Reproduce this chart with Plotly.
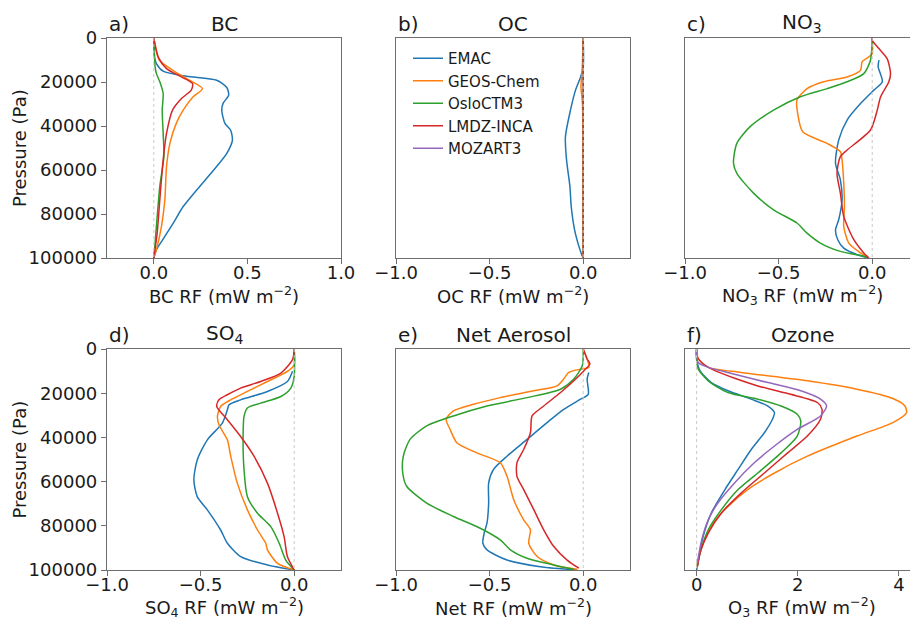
import plotly.graph_objects as go

# ---------------- data (pressure in Pa, RF in mW m-2) ----------------
models = ["EMAC", "GEOS-Chem", "OsloCTM3", "LMDZ-INCA", "MOZART3"]
colors = ["#1f77b4", "#ff7f0e", "#2ca02c", "#d62728", "#9467bd"]

# a) BC
bc_emac_p = [2000, 9400, 11600, 15100, 17400, 19200, 22500, 26000, 29700, 32800, 38800, 41800, 46400, 52400, 60000, 69000, 76600, 84100, 90200, 96200, 100000]
bc_emac_rf = [0.0, 0.005, 0.014, 0.05, 0.175, 0.336, 0.39, 0.40, 0.37, 0.363, 0.38, 0.41, 0.42, 0.39, 0.32, 0.23, 0.157, 0.104, 0.059, 0.014, 0.0]
bc_geos_p = [0, 5600, 10100, 14600, 19200, 23000, 26700, 32800, 38800, 47900, 58500, 73600, 85600, 96200, 100000]
bc_geos_rf = [0.0, 0.014, 0.03, 0.10, 0.19, 0.26, 0.21, 0.157, 0.12, 0.086, 0.068, 0.059, 0.041, 0.014, 0.0]
bc_oslo_p = [0, 13100, 16200, 19900, 25200, 32800, 43400, 53900, 67500, 85600, 100000]
bc_oslo_rf = [0.0, 0.007, 0.014, 0.032, 0.05, 0.045, 0.05, 0.054, 0.032, 0.014, 0.0]
bc_lmdz_p = [0, 8600, 13900, 17700, 20700, 23700, 27500, 32800, 43400, 55400, 73600, 88700, 100000]
bc_lmdz_rf = [0.0, 0.023, 0.068, 0.148, 0.207, 0.20, 0.148, 0.10, 0.068, 0.05, 0.032, 0.018, 0.0]

# b) OC
oc_emac_p = [0, 13100, 17700, 23700, 32800, 44900, 55400, 67500, 76600, 87200, 94700, 99200]
oc_emac_rf = [0.0, 0.0, -0.014, -0.041, -0.068, -0.095, -0.089, -0.071, -0.064, -0.046, -0.023, -0.005]
oc_geos_p = [0, 15000, 22000, 30000, 100000]
oc_geos_rf = [0.0, -0.006, -0.012, -0.004, 0.0]
oc_oslo_p = [0, 100000]
oc_oslo_rf = [0.0, 0.0]
oc_lmdz_p = [0, 100000]
oc_lmdz_rf = [0.0, 0.0]

# c) NO3
no3_emac_p = [10100, 13100, 19900, 23700, 29800, 37300, 46400, 56900, 64500, 73600, 82600, 87200, 91700, 95500, 98500, 100000]
no3_emac_rf = [0.036, 0.032, 0.054, 0.009, -0.0625, -0.134, -0.179, -0.196, -0.17, -0.161, -0.179, -0.196, -0.184, -0.152, -0.08, -0.018]
no3_geos_p = [0, 7100, 8600, 10900, 14700, 17700, 19900, 23000, 28200, 34300, 42600, 47900, 51700, 55400, 66000, 76600, 85600, 93200, 97700, 100000]
no3_geos_rf = [0.0, 0.0, -0.018, -0.054, -0.0625, -0.134, -0.259, -0.348, -0.402, -0.398, -0.371, -0.241, -0.17, -0.161, -0.152, -0.148, -0.152, -0.125, -0.0625, -0.018]
no3_oslo_p = [0, 1000, 10100, 16200, 19900, 23000, 26700, 32800, 40300, 47900, 56900, 61500, 70500, 78100, 84100, 88700, 93200, 97000, 99200, 100000]
no3_oslo_rf = [0.0, 0.0, -0.009, -0.045, -0.134, -0.241, -0.384, -0.527, -0.652, -0.723, -0.741, -0.723, -0.634, -0.527, -0.402, -0.348, -0.277, -0.17, -0.045, -0.018]
no3_lmdz_p = [0, 1000, 4800, 9400, 16200, 19900, 26700, 32800, 41800, 50900, 53900, 61500, 70500, 81100, 91700, 97700, 100000]
no3_lmdz_rf = [0.0, 0.0, 0.036, 0.08, 0.098, 0.089, 0.045, 0.027, -0.009, -0.134, -0.17, -0.188, -0.17, -0.152, -0.098, -0.045, -0.018]

# d) SO4
so4_emac_p = [10100, 14700, 19200, 23000, 25200, 27500, 33500, 41100, 50200, 59200, 66800, 72800, 81900, 87900, 93900, 97700, 100000]
so4_emac_rf = [-0.009, -0.036, -0.143, -0.286, -0.348, -0.357, -0.384, -0.464, -0.518, -0.536, -0.518, -0.464, -0.393, -0.357, -0.286, -0.143, 0.0]
so4_geos_p = [0, 7100, 10100, 14700, 19200, 23000, 26000, 30500, 34300, 41100, 48600, 60700, 72800, 81900, 87900, 90900, 97000, 100000]
so4_geos_rf = [0.0, 0.0, -0.036, -0.143, -0.25, -0.339, -0.393, -0.41, -0.402, -0.357, -0.339, -0.304, -0.25, -0.196, -0.152, -0.143, -0.089, 0.0]
so4_oslo_p = [0, 12400, 17700, 21500, 24500, 26700, 30500, 39600, 54700, 66800, 74300, 80400, 87900, 95500, 100000]
so4_oslo_rf = [0.0, 0.0, -0.018, -0.071, -0.179, -0.25, -0.268, -0.273, -0.268, -0.25, -0.196, -0.125, -0.08, -0.045, 0.0]
so4_lmdz_p = [0, 300, 4800, 10900, 14700, 17700, 20700, 23000, 26000, 32000, 39600, 48600, 60700, 74300, 84900, 94000, 100000]
so4_lmdz_rf = [0.0, 0.0, -0.009, -0.071, -0.179, -0.286, -0.357, -0.402, -0.414, -0.357, -0.286, -0.214, -0.143, -0.089, -0.054, -0.036, 0.0]

# e) Net aerosol
net_emac_p = [10600, 13600, 20500, 22700, 27300, 33300, 40900, 48500, 54500, 60600, 69700, 78800, 83300, 87900, 90900, 95500, 98500, 100000]
net_emac_rf = [0.030, 0.021, 0.027, -0.014, -0.104, -0.193, -0.30, -0.407, -0.479, -0.505, -0.505, -0.514, -0.529, -0.536, -0.514, -0.407, -0.229, -0.032]
net_geos_p = [0, 8300, 9100, 10600, 13600, 16700, 18900, 22000, 25000, 28000, 31800, 36400, 42400, 47000, 51500, 57600, 68200, 77300, 81800, 87900, 93900, 97700, 99700]
net_geos_rf = [0.0, 0.03, -0.014, -0.077, -0.104, -0.139, -0.264, -0.443, -0.586, -0.693, -0.732, -0.711, -0.675, -0.568, -0.443, -0.407, -0.371, -0.318, -0.282, -0.291, -0.246, -0.157, -0.032]
net_oslo_p = [0, 7600, 13600, 18200, 22000, 25800, 30300, 34800, 40900, 48500, 56100, 62100, 69700, 75800, 81100, 86400, 90900, 94700, 97700, 99700]
net_oslo_rf = [0.0, -0.005, -0.05, -0.121, -0.30, -0.514, -0.693, -0.836, -0.925, -0.961, -0.964, -0.943, -0.836, -0.693, -0.55, -0.443, -0.389, -0.30, -0.157, -0.05]
net_lmdz_p = [0, 4500, 6800, 9800, 14400, 19700, 25800, 30300, 37900, 45500, 51500, 57600, 63600, 72700, 81800, 89400, 95500, 99200]
net_lmdz_rf = [0.0, 0.021, 0.036, 0.004, -0.05, -0.121, -0.211, -0.273, -0.282, -0.318, -0.354, -0.354, -0.318, -0.264, -0.211, -0.157, -0.086, -0.023]

# f) Ozone
o3_emac_p = [0, 4500, 9800, 15200, 18900, 22700, 25800, 28800, 31800, 37900, 45500, 54500, 63600, 74200, 84800, 95500, 100000]
o3_emac_rf = [0.0, 0.0, 0.065, 0.29, 0.62, 1.08, 1.41, 1.54, 1.50, 1.34, 1.08, 0.82, 0.56, 0.29, 0.13, 0.033, 0.0]
o3_geos_p = [0, 4500, 8300, 10600, 14400, 18200, 22400, 25800, 28800, 33300, 39400, 48500, 56100, 63600, 71200, 78800, 86400, 93900, 99200]
o3_geos_rf = [0.0, 0.033, 0.23, 0.88, 2.19, 3.17, 3.88, 4.12, 4.15, 3.88, 3.17, 2.19, 1.54, 1.01, 0.62, 0.33, 0.16, 0.046, 0.0]
o3_oslo_p = [0, 4500, 9100, 14400, 19700, 22700, 25800, 29500, 32600, 39400, 47000, 56100, 63600, 72700, 81800, 90900, 98500]
o3_oslo_rf = [0.0, 0.0, 0.033, 0.23, 0.62, 1.21, 1.67, 1.99, 2.06, 1.99, 1.67, 1.21, 0.82, 0.49, 0.23, 0.085, 0.013]
o3_lmdz_p = [0, 3000, 6100, 9800, 16700, 20500, 24200, 27300, 31800, 39400, 47000, 56100, 65200, 74200, 83300, 90900, 98500]
o3_lmdz_rf = [0.0, 0.0, 0.1, 0.36, 1.21, 1.86, 2.39, 2.48, 2.45, 2.19, 1.80, 1.34, 0.88, 0.49, 0.23, 0.085, 0.013]
o3_moz_p = [0, 6100, 8300, 11400, 15200, 18900, 22700, 25800, 30300, 36400, 43900, 51500, 60600, 69700, 77300, 86400, 97000]
o3_moz_rf = [0.0, 0.03, 0.23, 0.75, 1.41, 2.06, 2.45, 2.57, 2.45, 1.99, 1.54, 1.14, 0.75, 0.42, 0.23, 0.10, 0.013]

panel_letters = ["a)", "b)", "c)", "d)", "e)", "f)"]
panel_titles = ["BC", "OC", "NO<sub>3</sub>", "SO<sub>4</sub>", "Net Aerosol", "Ozone"]
x_labels = ["BC RF (mW m<sup>−2</sup>)", "OC RF (mW m<sup>−2</sup>)", "NO<sub>3</sub> RF (mW m<sup>−2</sup>)",
            "SO<sub>4</sub> RF (mW m<sup>−2</sup>)", "Net RF (mW m<sup>−2</sup>)", "O<sub>3</sub> RF (mW m<sup>−2</sup>)"]
x_tickvals = [[0.0, 0.5, 1.0], [-1.0, -0.5, 0.0], [-1.0, -0.5, 0.0], [-1.0, -0.5, 0.0], [-1.0, -0.5, 0.0], [0, 2, 4]]
x_ticktext = [["0.0", "0.5", "1.0"], ["−1.0", "−0.5", "0.0"], ["−1.0", "−0.5", "0.0"],
              ["−1.0", "−0.5", "0.0"], ["−1.0", "−0.5", "0.0"], ["0", "2", "4"]]
y_tickvals = [0, 20000, 40000, 60000, 80000, 100000]
y_ticktext = ["0", "20000", "40000", "60000", "80000", "100000"]

panel_data = [
    [(bc_emac_p, bc_emac_rf, 0), (bc_geos_p, bc_geos_rf, 1), (bc_oslo_p, bc_oslo_rf, 2), (bc_lmdz_p, bc_lmdz_rf, 3)],
    [(oc_emac_p, oc_emac_rf, 0), (oc_geos_p, oc_geos_rf, 1), (oc_oslo_p, oc_oslo_rf, 2), (oc_lmdz_p, oc_lmdz_rf, 3)],
    [(no3_emac_p, no3_emac_rf, 0), (no3_geos_p, no3_geos_rf, 1), (no3_oslo_p, no3_oslo_rf, 2), (no3_lmdz_p, no3_lmdz_rf, 3)],
    [(so4_emac_p, so4_emac_rf, 0), (so4_geos_p, so4_geos_rf, 1), (so4_oslo_p, so4_oslo_rf, 2), (so4_lmdz_p, so4_lmdz_rf, 3)],
    [(net_emac_p, net_emac_rf, 0), (net_geos_p, net_geos_rf, 1), (net_oslo_p, net_oslo_rf, 2), (net_lmdz_p, net_lmdz_rf, 3)],
    [(o3_emac_p, o3_emac_rf, 0), (o3_geos_p, o3_geos_rf, 1), (o3_oslo_p, o3_oslo_rf, 2), (o3_lmdz_p, o3_lmdz_rf, 3), (o3_moz_p, o3_moz_rf, 4)],
]

# ---------------- layout geometry (pixels) ----------------
W, H = 910, 617
col_px = [(107, 341), (396, 630), (685, 910)]
full_col_right = [341, 630, 919]
row_px = [(38, 258), (349, 570)]
x_ranges = [[-0.25, 1.0], [-1.0, 0.25], [-1.0, 0.202], [-1.0, 0.25], [-1.0, 0.25], [-0.23, 4.22]]

FONT = "DejaVu Sans"
SPINE = "#6e6e6e"
TXT = "#1a1a1a"

fig = go.Figure()
legend_shown = set()
for i in range(6):
    ax = "" if i == 0 else str(i + 1)
    for p, rf, m in panel_data[i]:
        show = m not in legend_shown
        legend_shown.add(m)
        fig.add_trace(go.Scatter(x=rf, y=p, mode="lines", name=models[m],
                                 line=dict(color=colors[m], width=1.5, shape="spline", smoothing=0.7),
                                 showlegend=show, legendgroup=models[m],
                                 xaxis="x" + ax, yaxis="y" + ax))
    fig.add_trace(go.Scatter(x=[0, 0], y=[0, 100000], mode="lines", showlegend=False,
                             line=dict(color="#c8c8c8", width=1, dash="dot"),
                             xaxis="x" + ax, yaxis="y" + ax, hoverinfo="skip"))

layout = dict(width=W, height=H, margin=dict(l=0, r=0, t=0, b=0, autoexpand=False),
              paper_bgcolor="white", plot_bgcolor="white",
              font=dict(family=FONT, size=18, color=TXT),
              showlegend=True,
              legend=dict(x=408 / W, y=1 - 42 / H, xanchor="left", yanchor="top",
                          font=dict(family=FONT, size=15, color=TXT), bgcolor="rgba(0,0,0,0)",
                          tracegroupgap=0, itemwidth=30))
annotations = []
for i in range(6):
    r, c = divmod(i, 3)
    ax = "" if i == 0 else str(i + 1)
    x0, x1 = col_px[c]
    ytop, ybot = row_px[r]
    layout["xaxis" + ax] = dict(domain=[x0 / W, x1 / W], range=x_ranges[i], anchor="y" + ax,
                                automargin=False, ticklabelstandoff=-7,
                                tickvals=x_tickvals[i], ticktext=x_ticktext[i],
                                showline=True, linecolor=SPINE, linewidth=1.2, mirror=True,
                                ticks="outside", ticklen=5, tickcolor=SPINE, tickwidth=1.2,
                                tickfont=dict(size=18, color=TXT), showgrid=False, zeroline=False)
    layout["yaxis" + ax] = dict(domain=[1 - ybot / H, 1 - ytop / H], range=[100000, 0], anchor="x" + ax,
                                automargin=False,
                                showline=True, linecolor=SPINE, linewidth=1.2, mirror=(c != 2),
                                showgrid=False, zeroline=False,
                                tickvals=y_tickvals, ticktext=y_ticktext if c == 0 else [""] * 6,
                                ticks="outside" if c == 0 else "", ticklen=5, tickcolor=SPINE, tickwidth=1.2,
                                showticklabels=(c == 0), tickfont=dict(size=18, color=TXT))
    centre = (x0 + full_col_right[c]) / 2
    annotations.append(dict(text=panel_titles[i], x=centre / W, y=1 - ytop / H, xref="paper", yref="paper",
                            xanchor="center", yanchor="bottom", showarrow=False, yshift=0,
                            font=dict(size=20, color=TXT, family=FONT)))
    annotations.append(dict(text=panel_letters[i], x=x0 / W, y=1 - ytop / H, xref="paper", yref="paper",
                            xanchor="left", yanchor="bottom", showarrow=False, yshift=0,
                            font=dict(size=20, color=TXT, family=FONT)))
    annotations.append(dict(text=x_labels[i], x=centre / W, y=1 - (ybot + 37) / H, xref="paper", yref="paper",
                            xanchor="center", yanchor="middle", showarrow=False,
                            font=dict(size=18, color=TXT, family=FONT)))
    if c == 0:
        annotations.append(dict(text="Pressure (Pa)", x=19 / W, y=1 - ((ytop + ybot) / 2) / H,
                                xref="paper", yref="paper", xanchor="center", yanchor="middle",
                                textangle=-90, showarrow=False,
                                font=dict(size=18, color=TXT, family=FONT)))
layout["annotations"] = annotations
fig.update_layout(**layout)
fig.write_html("out.html")
